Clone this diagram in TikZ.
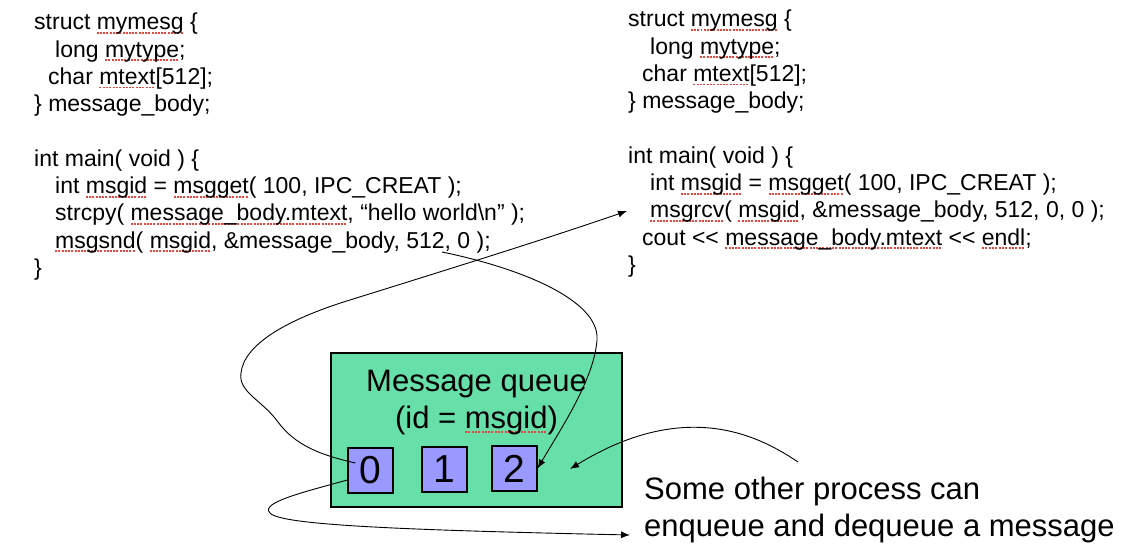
\documentclass[tikz,border=0pt]{standalone}
\usepackage{fontspec}
\setmainfont{Liberation Sans}
\usetikzlibrary{arrows.meta}
\definecolor{qgreen}{RGB}{102,224,168}
\definecolor{slotblue}{RGB}{153,153,255}
\definecolor{spellred}{RGB}{232,72,60}
\newsavebox\spellbox
\newcommand\spell[1]{\sbox\spellbox{#1}\rlap{\lower4pt\hbox to\wd\spellbox{\color{spellred}\xleaders\hbox{\rule{2pt}{1.8pt}\kern1.2pt}\hfil}}\usebox\spellbox}
\newcommand\shl{\mbox{<}\mbox{<}}
\begin{document}
\begin{tikzpicture}[x=1pt,y=-1pt,>={Latex[length=9pt,width=7pt]},
  code/.style={anchor=north west,inner sep=0pt,align=left,font=\fontsize{23}{27.3}\selectfont},
  big/.style={inner sep=0pt,font=\fontsize{31}{37}\selectfont},
  slot/.style={draw,line width=1.2pt,fill=slotblue,minimum size=45pt,inner sep=0pt,font=\fontsize{39}{39}\selectfont},
  link/.style={->,line width=0.9pt}]
\useasboundingbox (0,0) rectangle (1138,548);
\node[code] (sender) at (34,13) {struct \spell{mymesg} \{\\
\hspace*{21pt}long \spell{mytype};\\
\hspace*{14pt}char \spell{mtext}[512];\\
\} message\_body;\\[27.3pt]
int main( void ) \{\\
\hspace*{21pt}int \spell{msgid} = \spell{msgget}( 100, IPC\_CREAT );\\
\hspace*{21pt}strcpy( \spell{message\_body.mtext}, “hello world\textbackslash n” );\\
\hspace*{21pt}\spell{msgsnd}( \spell{msgid}, \&message\_body, 512, 0 );\\
\}};
\node[code] (receiver) at (628,10) {struct \spell{mymesg} \{\\
\hspace*{22pt}long \spell{mytype};\\
\hspace*{14pt}char \spell{mtext}[512];\\
\} message\_body;\\[27.3pt]
int main( void ) \{\\
\hspace*{22pt}int \spell{msgid} = \spell{msgget}( 100, IPC\_CREAT );\\
\hspace*{22pt}\spell{msgrcv}( \spell{msgid}, \&message\_body, 512, 0, 0 );\\
\hspace*{14pt}cout \shl{} \spell{message\_body.mtext} \shl{} \spell{endl};\\
\}};
\node[draw,line width=1.2pt,fill=qgreen,minimum width=291pt,minimum height=154pt,inner sep=0pt] (queue) at (476.5,430) {};
\node[big,align=center,anchor=north] (qname) at (476.5,370) {Message queue\\(id = \spell{msgid})};
\node[slot] (q0) at (370.5,470.5) {0};
\node[slot] (q1) at (444.5,469.5) {1};
\node[slot] (q2) at (514.5,468.5) {2};
\node[big,align=left,anchor=north west] (other) at (644,477) {Some other process can\\enqueue and dequeue a message};
\coordinate (sndpt) at (442,252);
\coordinate (rcvpt) at (627,211);
\coordinate (enqpt) at (630,535);
\coordinate (otherpt) at (798,462);
\coordinate (hit) at (570,469);
\draw[link] (sndpt) .. controls (520,268) and (600,300) .. (597,340) .. controls (594,380) and (560,430) .. (q2.east);
\draw[link] ([shift={(8,-7.5)}]q0.west) .. controls (320,455) and (295,445) .. (278,422) .. controls (262,400) and (238,392) .. (241,373) .. controls (244,345) and (285,320) .. (350,300) .. controls (430,275) and (540,241) .. (rcvpt);
\draw[link] ([shift={(0,9.5)}]q0.west) .. controls (300,493) and (260,503) .. (270,513) .. controls (280,525) and (400,530) .. (enqpt);
\draw[link] (otherpt) .. controls (765,440) and (690,395) .. (hit);
\end{tikzpicture}
\end{document}
